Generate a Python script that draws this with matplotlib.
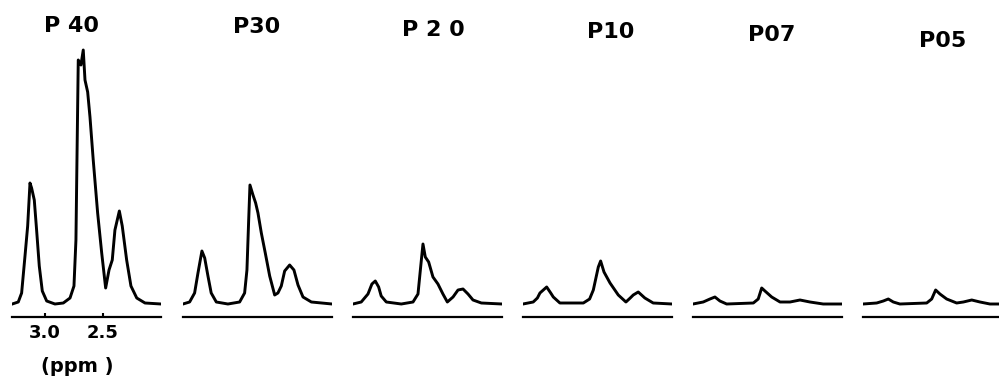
import matplotlib.pyplot as plt

# sample names and 1H NMR traces (chemical shift in ppm, relative intensity)
samples = ['P 40', 'P30', 'P 2 0', 'P10', 'P07', 'P05']

ppm_p40 = [3.282, 3.230, 3.201, 3.172, 3.149, 3.129, 3.115, 3.092, 3.072, 3.049,
           3.023, 2.985, 2.914, 2.842, 2.784, 2.750, 2.733, 2.722, 2.713, 2.690,
           2.670, 2.655, 2.632, 2.612, 2.584, 2.546, 2.511, 2.477, 2.448, 2.420,
           2.397, 2.359, 2.334, 2.296, 2.259, 2.209, 2.138, 2.000]
int_p40 = [0, 2, 11, 48, 78, 121, 116, 104, 74, 38,
           13, 3, 0, 1, 6, 18, 64, 164, 244, 239,
           254, 224, 212, 187, 144, 91, 51, 16, 34, 44,
           74, 93, 78, 44, 18, 6, 1, 0]

ppm_p30 = [3.284, 3.227, 3.184, 3.155, 3.121, 3.097, 3.069, 3.041, 2.997, 2.897,
           2.796, 2.753, 2.733, 2.718, 2.707, 2.681, 2.658, 2.638, 2.609, 2.575,
           2.537, 2.494, 2.466, 2.437, 2.408, 2.365, 2.328, 2.293, 2.250, 2.178,
           2.000]
int_p30 = [0, 2, 11, 31, 53, 46, 28, 11, 2, 0,
           2, 11, 34, 84, 119, 109, 101, 91, 71, 51,
           28, 9, 11, 18, 33, 39, 34, 19, 7, 2,
           0]

ppm_p20 = [3.284, 3.213, 3.155, 3.121, 3.092, 3.063, 3.041, 2.997, 2.868, 2.767,
           2.724, 2.701, 2.681, 2.661, 2.632, 2.595, 2.552, 2.509, 2.471, 2.422,
           2.379, 2.336, 2.293, 2.250, 2.178, 2.000]
int_p20 = [0, 2, 10, 20, 23, 17, 8, 2, 0, 2,
           10, 37, 60, 47, 42, 27, 20, 10, 2, 7,
           14, 15, 10, 4, 1, 0]

ppm_p10 = [3.284, 3.196, 3.160, 3.138, 3.080, 3.045, 3.023, 2.966, 2.764, 2.710,
           2.678, 2.650, 2.635, 2.615, 2.586, 2.534, 2.463, 2.397, 2.360, 2.334,
           2.291, 2.234, 2.162, 2.000]
int_p10 = [0, 2, 6, 11, 17, 11, 7, 1, 1, 5,
           14, 29, 37, 43, 32, 21, 9, 2, 6, 9,
           12, 6, 1, 0]

ppm_p07 = [3.284, 3.196, 3.138, 3.095, 3.052, 2.994, 2.764, 2.722, 2.692, 2.664,
           2.606, 2.534, 2.448, 2.362, 2.276, 2.162, 2.000]
int_p07 = [0, 2, 5, 7, 3, 0, 1, 5, 16, 13,
           7, 2, 2, 4, 2, 0, 0]

ppm_p05 = [3.284, 3.166, 3.109, 3.066, 3.023, 2.966, 2.735, 2.692, 2.658, 2.621,
           2.563, 2.477, 2.419, 2.347, 2.276, 2.190, 2.000]
int_p05 = [0, 1, 3, 5, 2, 0, 1, 5, 14, 10,
           5, 1, 2, 4, 2, 0, 0]

spectra = [(ppm_p40, int_p40), (ppm_p30, int_p30), (ppm_p20, int_p20),
           (ppm_p10, int_p10), (ppm_p07, int_p07), (ppm_p05, int_p05)]

W, H = 999, 376
panel_left = [12, 183, 353, 523, 693, 863]   # pixels
title_pos = [(72, 26), (257, 27), (433, 30), (611, 32), (772, 35), (943, 41)]

fig = plt.figure(figsize=(W / 100, H / 100), dpi=100)

for i, (x, y) in enumerate(spectra):
    ax = fig.add_axes([panel_left[i] / W, 52 / H, 149 / W, 300 / H])
    ax.plot(x, y, color='black', lw=2.1, solid_joinstyle='round')
    ax.set_xlim(3.284, 2.0)
    ax.set_ylim(-20, 280)
    ax.patch.set_visible(False)
    for s in ['top', 'left', 'right']:
        ax.spines[s].set_visible(False)
    ax.spines['bottom'].set_position(('data', -13))
    ax.spines['bottom'].set_linewidth(1.6)
    ax.set_yticks([])
    if i == 0:
        ax.set_xticks([3.0, 2.5])
        ax.set_xticklabels(['3.0', '2.5'], fontsize=13, fontweight='bold')
        ax.tick_params(axis='x', direction='in', length=3, width=1.5, pad=5)
        ax.set_xlabel('(ppm )', fontsize=14, fontweight='bold')
        ax.xaxis.set_label_coords(65 / 149, -0.11)
    else:
        ax.set_xticks([])

    tx, ty = title_pos[i]
    fig.text(tx / W, 1 - ty / H, samples[i], ha='center', va='center',
             fontsize=16, fontweight='bold')

fig.savefig('out.png', dpi=100)
